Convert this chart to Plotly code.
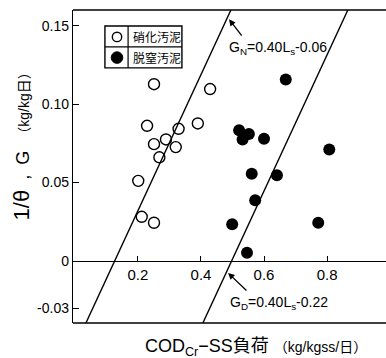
import plotly.graph_objects as go

# Nitrifying sludge (open circles)
nit_x = [0.251, 0.429, 0.229, 0.329, 0.390, 0.289, 0.251, 0.320, 0.268, 0.201, 0.212, 0.251]
nit_y = [0.1127, 0.1096, 0.0862, 0.0843, 0.0877, 0.0775, 0.0745, 0.0726, 0.0661, 0.0511, 0.0282, 0.0244]

# Denitrifying sludge (filled circles)
den_x = [0.669, 0.521, 0.552, 0.532, 0.600, 0.807, 0.561, 0.641, 0.572, 0.499, 0.772, 0.546]
den_y = [0.1157, 0.0834, 0.0809, 0.0775, 0.0779, 0.0711, 0.0556, 0.0546, 0.0387, 0.0234, 0.0244, 0.0053]

# Regression lines as drawn (end points)
gn_x = [0.035, 0.495]
gn_y = [-0.0395, 0.160]
gd_x = [0.406, 0.866]
gd_y = [-0.0395, 0.160]

x_ticks = [0.2, 0.4, 0.6, 0.8]
x_ticklabels = ["0.2", "0.4", "0.6", "0.8"]
y_ticks = [0.15, 0.10, 0.05, 0.0, -0.03]
y_ticklabels = ["0.15", "0.10", "0.05", "0", "-0.03"]

legend_labels = ["硝化汚泥", "脱窒汚泥"]

FONT = "Liberation Sans, Noto Sans CJK JP"

fig = go.Figure()
fig.add_trace(go.Scatter(x=gn_x, y=gn_y, mode="lines", line=dict(color="black", width=1.4),
                         showlegend=False, hoverinfo="skip"))
fig.add_trace(go.Scatter(x=gd_x, y=gd_y, mode="lines", line=dict(color="black", width=1.4),
                         showlegend=False, hoverinfo="skip"))
fig.add_trace(go.Scatter(x=nit_x, y=nit_y, mode="markers", name=legend_labels[0],
                         marker=dict(symbol="circle-open", size=11, color="black", line=dict(width=1.4))))
fig.add_trace(go.Scatter(x=den_x, y=den_y, mode="markers", name=legend_labels[1],
                         marker=dict(symbol="circle", size=12, color="black")))

fig.update_layout(
    width=386, height=358,
    margin=dict(l=73, r=0, t=10, b=35, autoexpand=False),
    paper_bgcolor="white", plot_bgcolor="white",
    font=dict(family=FONT, size=13, color="black"),
    showlegend=False,
)

y0_paper = 0.0395 / 0.1995
fig.update_xaxes(range=[-0.006, 0.987], showgrid=False, zeroline=False, automargin=False,
                 showline=True, linecolor="black", linewidth=1.4,
                 anchor="free", position=y0_paper,
                 ticks="inside", ticklen=5, tickcolor="black", tickwidth=1.2,
                 tickvals=x_ticks, ticktext=x_ticklabels,
                 tickfont=dict(family=FONT, size=15))
fig.update_yaxes(range=[-0.0395, 0.160], showgrid=False, zeroline=False, automargin=False,
                 showline=True, linecolor="black", linewidth=1.4,
                 ticks="inside", ticklen=6, tickcolor="black", tickwidth=1.2,
                 tickvals=y_ticks, ticktext=y_ticklabels,
                 tickfont=dict(family=FONT, size=14))

# frame top and bottom
fig.add_shape(type="line", xref="paper", yref="paper", x0=0, x1=1, y0=1, y1=1,
              line=dict(color="black", width=1.4))
fig.add_shape(type="line", xref="paper", yref="paper", x0=0, x1=1, y0=0, y1=0,
              line=dict(color="black", width=1.4))

# legend box (table style)
fig.add_shape(type="rect", xref="paper", yref="paper", x0=0.102, x1=0.348, y0=0.815, y1=0.949,
              line=dict(color="black", width=1.4), fillcolor="white")
fig.add_shape(type="line", xref="paper", yref="paper", x0=0.176, x1=0.176, y0=0.815, y1=0.949,
              line=dict(color="black", width=1.2))
fig.add_shape(type="line", xref="paper", yref="paper", x0=0.102, x1=0.348, y0=0.882, y1=0.882,
              line=dict(color="black", width=1.2))
fig.add_shape(type="circle", xref="paper", yref="paper", x0=0.1406 - 0.0150, x1=0.1406 + 0.0150,
              y0=0.914 - 0.0150, y1=0.914 + 0.0150, line=dict(color="black", width=1.4))
fig.add_shape(type="circle", xref="paper", yref="paper", x0=0.1406 - 0.0185, x1=0.1406 + 0.0185,
              y0=0.848 - 0.0185, y1=0.848 + 0.0185, line=dict(color="black", width=1),
              fillcolor="black")
fig.add_annotation(xref="paper", yref="paper", x=0.185, y=0.914, xanchor="left", yanchor="middle",
                   showarrow=False, text=legend_labels[0], font=dict(family="Noto Sans CJK JP", size=12))
fig.add_annotation(xref="paper", yref="paper", x=0.185, y=0.848, xanchor="left", yanchor="middle",
                   showarrow=False, text=legend_labels[1], font=dict(family="Noto Sans CJK JP", size=12))

# equation labels
fig.add_annotation(x=0.645, y=0.1357, xref="x", yref="y", showarrow=False,
                   text="G<sub>N</sub>=0.40L<sub>s</sub>-0.06",
                   font=dict(family=FONT, size=14))
fig.add_annotation(x=0.489, y=0.1541, ax=0.533, ay=0.1427, xref="x", yref="y",
                   axref="x", ayref="y", text="", showarrow=True,
                   arrowhead=2, arrowsize=1, arrowwidth=1.3, arrowcolor="black")
fig.add_annotation(x=0.648, y=-0.0268, xref="x", yref="y", showarrow=False,
                   text="G<sub>D</sub>=0.40L<sub>s</sub>-0.22",
                   font=dict(family=FONT, size=14))
fig.add_annotation(x=0.486, y=-0.0076, ax=0.549, ay=-0.0197, xref="x", yref="y",
                   axref="x", ayref="y", text="", showarrow=True,
                   arrowhead=2, arrowsize=1, arrowwidth=1.3, arrowcolor="black")

# axis titles
fig.add_annotation(xref="paper", yref="paper", x=0.585, y=-0.077, showarrow=False,
                   xanchor="center", yanchor="middle",
                   text="COD<sub>Cr</sub>−SS負荷 <span style='font-size:14px'>（kg/kgss/日）</span>",
                   font=dict(family=FONT, size=18))
fig.add_annotation(xref="paper", yref="paper", x=-0.165, y=0.575, showarrow=False,
                   xanchor="center", yanchor="middle", textangle=-90,
                   text="<span style='font-size:22px'>1/θ</span>  ,  G  <span style='font-size:14px'>（kg/kg日）</span>",
                   font=dict(family=FONT, size=18))

fig.write_html("out.html", config={"displayModeBar": False},
               post_script="document.body.style.margin='0';document.body.style.overflow='hidden';")
